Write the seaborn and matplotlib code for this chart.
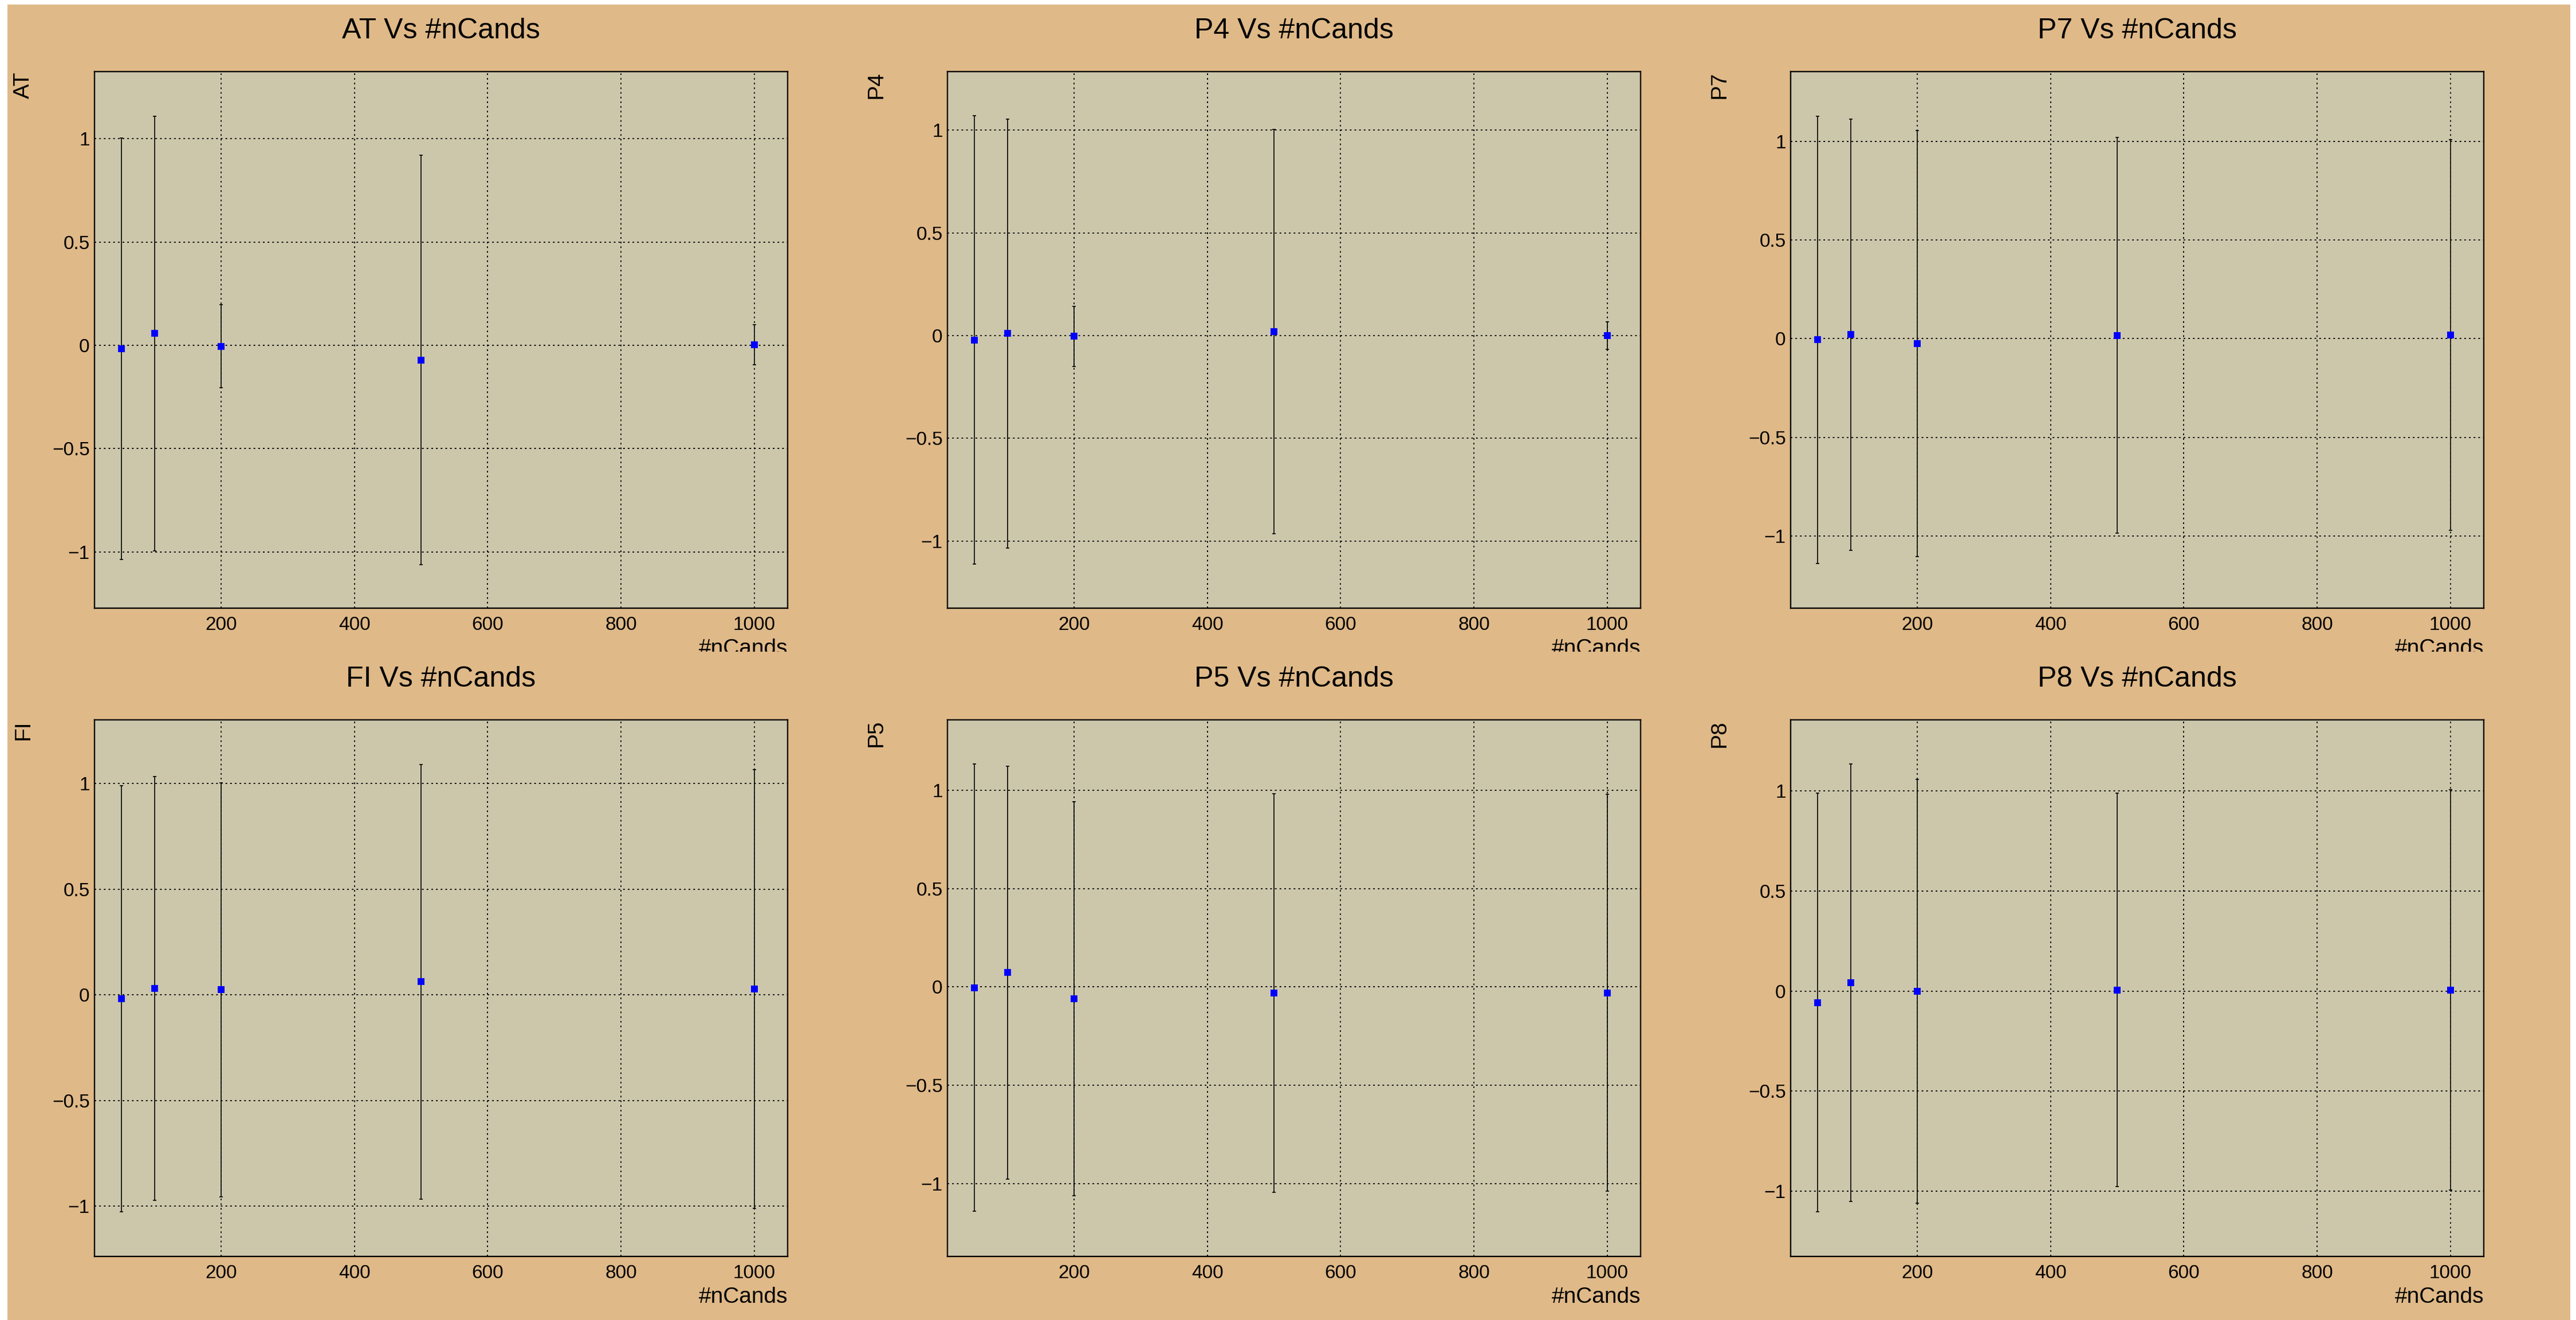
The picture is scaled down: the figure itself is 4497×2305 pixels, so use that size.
import matplotlib
matplotlib.use("Agg")
import matplotlib.pyplot as plt
import seaborn as sns
import numpy as np
from matplotlib.ticker import MultipleLocator, FuncFormatter
from matplotlib.patches import Rectangle
from matplotlib.transforms import Bbox, TransformedBbox

sns.set_style("white")
plt.rcParams['font.family'] = ['Liberation Sans', 'DejaVu Sans']
plt.rcParams['text.color'] = 'black'
plt.rcParams['axes.labelcolor'] = 'black'
plt.rcParams['axes.titlecolor'] = 'black'
plt.rcParams['xtick.color'] = 'black'
plt.rcParams['ytick.color'] = 'black'

# data
n_cands = [50, 100, 200, 500, 1000]

panel_names = ['AT', 'P4', 'P7', 'FI', 'P5', 'P8']

at_vals = [-0.016, 0.057, -0.004, -0.071, 0.002]
at_errs = [1.02, 1.053, 0.20, 0.99, 0.097]
p4_vals = [-0.021, 0.011, -0.004, 0.019, 0.0]
p4_errs = [1.09, 1.044, 0.146, 0.985, 0.066]
p7_vals = [-0.006, 0.021, -0.025, 0.017, 0.019]
p7_errs = [1.134, 1.092, 1.08, 1.002, 0.99]
fi_vals = [-0.018, 0.030, 0.024, 0.062, 0.028]
fi_errs = [1.008, 1.003, 0.98, 1.029, 1.037]
p5_vals = [-0.004, 0.073, -0.060, -0.032, -0.030]
p5_errs = [1.138, 1.05, 1.002, 1.013, 1.01]
p8_vals = [-0.057, 0.042, -0.002, 0.006, 0.006]
p8_errs = [1.048, 1.095, 1.06, 0.983, 1.002]

panel_vals = [at_vals, p4_vals, p7_vals, fi_vals, p5_vals, p8_vals]
panel_errs = [at_errs, p4_errs, p7_errs, fi_errs, p5_errs, p8_errs]
panel_ylims = [(-1.272, 1.325), (-1.327, 1.285), (-1.365, 1.353),
               (-1.2375, 1.301), (-1.371, 1.358), (-1.327, 1.3565)]

W, H = 4497, 2305
PAD_BG = '#DFB988'
FRAME_BG = '#CCC7AB'

fig = plt.figure(figsize=(W / 100, H / 100), dpi=100, facecolor='white')
fig.patches.append(Rectangle((13 / W, 0), 4474 / W, (H - 8) / H,
                             transform=fig.transFigure, facecolor=PAD_BG,
                             edgecolor='none', zorder=-10))

col_left = [165, 1654, 3126]
col_width = 1210
row_top = [125, 1257]
row_height = 937

def fmt_y(v, pos):
    s = '%g' % round(v, 3)
    return s.replace('-', '\u2212')

for i, name in enumerate(panel_names):
    r, c = divmod(i, 3)
    left = col_left[c] / W
    bottom = 1 - (row_top[r] + row_height) / H
    ax = fig.add_axes([left, bottom, col_width / W, row_height / H])
    ax.set_facecolor(FRAME_BG)

    ax.errorbar(n_cands, panel_vals[i], yerr=panel_errs[i], fmt='none',
                ecolor='black', elinewidth=1.2, capsize=2.2, capthick=1.2,
                zorder=2)
    sns.scatterplot(x=n_cands, y=panel_vals[i], ax=ax, marker='s', color='#0000FF',
                    s=83, linewidth=0, zorder=3)

    ax.set_xlim(10, 1050)
    ax.set_ylim(*panel_ylims[i])

    ax.xaxis.set_major_locator(MultipleLocator(200))
    ax.xaxis.set_minor_locator(MultipleLocator(50))
    ax.yaxis.set_major_locator(MultipleLocator(0.5))
    ax.yaxis.set_minor_locator(MultipleLocator(0.1))
    ax.yaxis.set_major_formatter(FuncFormatter(fmt_y))

    ax.tick_params(axis='both', which='both', direction='in', color='black',
                   top=False, right=False, labelcolor='black')
    ax.tick_params(axis='x', which='major', length=25, width=1.4, pad=10, labelsize=24)
    ax.tick_params(axis='x', which='minor', length=9.5, width=1.4)
    ax.tick_params(axis='y', which='major', length=26, width=1.4, pad=6, labelsize=24)
    ax.tick_params(axis='y', which='minor', length=13, width=1.4)

    ax.grid(True, which='major', color='black', linewidth=1.4,
            linestyle=(0, (1.5, 2.7)))
    ax.set_axisbelow(True)
    for sp in ax.spines.values():
        sp.set_visible(True)
        sp.set_color('black')
        sp.set_linewidth(1.7)

    ax.set_title(name + ' Vs #nCands', fontsize=36, pad=42, color='black')

    ax.set_ylabel(name, fontsize=28, color='black')
    ax.yaxis.label.set(rotation_mode='default', ha='center', va='top')
    ax.yaxis.set_label_coords(-124 / col_width, 1.0)

    ax.set_xlabel('#nCands', fontsize=28, color='black')
    ax.xaxis.label.set(ha='right', va='top')
    ax.xaxis.set_label_coords(1.0, -53 / row_height)
    if r == 0:
        ax.xaxis.label.set_clip_on(True)
        ax.xaxis.label.set_clip_box(
            TransformedBbox(Bbox([[0, 1 - 1138 / H], [1, 1]]), fig.transFigure))

fig.savefig('out.png', dpi=100, facecolor=fig.get_facecolor())
